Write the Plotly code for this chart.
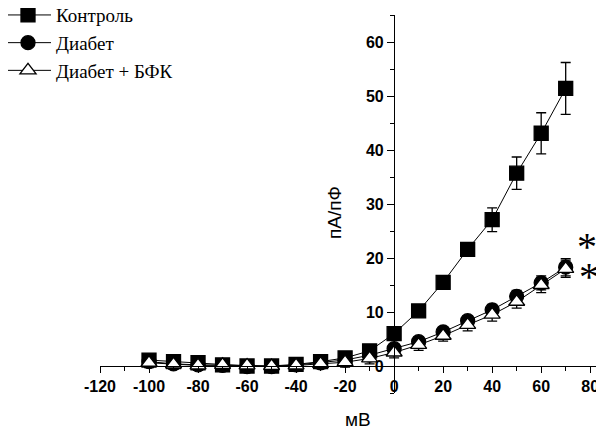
import plotly.graph_objects as go

voltage = [-100, -90, -80, -70, -60, -50, -40, -30, -20, -10, 0, 10, 20, 30, 40, 50, 60, 70]

control = [1.1, 0.8, 0.6, 0.2, 0.0, 0.0, 0.3, 0.8, 1.5, 2.8, 6.0, 10.2, 15.5, 21.6, 27.1, 35.7, 43.1, 51.4]
control_err = [0.5, 0.4, 0.4, 0.3, 0.3, 0.3, 0.3, 0.3, 0.4, 0.5, 0.5, 0.5, 0.6, 1.0, 2.2, 3.0, 3.8, 4.8]

diabetes = [0.8, 0.4, 0.2, 0.1, -0.1, -0.1, 0.2, 0.6, 1.1, 2.0, 3.2, 4.5, 6.3, 8.4, 10.4, 12.9, 15.4, 18.3]
diabetes_err = [0.9, 0.8, 0.8, 0.8, 0.8, 0.8, 0.8, 0.8, 0.8, 0.9, 0.9, 0.9, 0.9, 0.9, 1.0, 1.1, 1.3, 1.6]

bfk = [0.6, 0.3, 0.1, 0.2, 0.1, 0.0, 0.1, 0.4, 0.7, 1.4, 2.5, 3.9, 5.6, 7.6, 9.5, 11.9, 15.0, 18.0]
bfk_err = [0.9, 0.9, 0.9, 0.9, 0.9, 0.9, 0.9, 0.9, 0.9, 1.0, 1.0, 1.0, 1.0, 1.1, 1.2, 1.2, 1.4, 1.6]

names = ["Контроль", "Диабет", "Диабет + БФК"]
x_ticks = [-120, -100, -80, -60, -40, -20, 0, 20, 40, 60, 80]
y_ticks = [0, 10, 20, 30, 40, 50, 60]

x_range = [-120, 84]
y_range = [-5, 65]

fig = go.Figure()

series = [
    (names[0], control, control_err, "square", "black"),
    (names[1], diabetes, diabetes_err, "circle", "black"),
    (names[2], bfk, bfk_err, "triangle-up", "white"),
]
for name, vals, errs, sym, fill in series:
    fig.add_trace(go.Scatter(
        x=voltage, y=vals, name=name, mode="lines+markers",
        line=dict(color="black", width=1),
        marker=dict(symbol=sym, size=14, color=fill, line=dict(color="black", width=1.3)),
        error_y=dict(type="data", array=errs, visible=True, color="black", thickness=1.3, width=5),
        hoverinfo="skip",
    ))

# page body has an 8px margin, so the figure is sized/offset to compensate
fig.update_layout(
    width=596, height=422,
    margin=dict(l=92, r=4, t=7, b=37, autoexpand=False),
    paper_bgcolor="white", plot_bgcolor="white",
    showlegend=True,
    legend=dict(
        x=-0.2, y=1.05, xanchor="left", yanchor="top",
        font=dict(family="Liberation Serif", size=19, color="black"),
        bgcolor="rgba(0,0,0,0)", tracegroupgap=0, itemwidth=46,
    ),
    xaxis=dict(
        range=x_range, anchor="free", position=(0 - y_range[0]) / (y_range[1] - y_range[0]),
        showline=True, linecolor="black", linewidth=1.3,
        tickmode="array", tickvals=x_ticks, ticktext=[str(v) for v in x_ticks],
        ticks="outside", ticklen=6, tickwidth=1.3, tickcolor="black",
        minor=dict(dtick=10, tick0=-120, ticks="outside", ticklen=4, tickwidth=1.3, tickcolor="black", showgrid=False),
        showgrid=False, zeroline=False,
        tickfont=dict(family="Liberation Sans", size=16, color="black", weight="bold"),
    ),
    yaxis=dict(
        range=y_range, anchor="free", position=(0 - x_range[0]) / (x_range[1] - x_range[0]),
        showline=True, linecolor="black", linewidth=1.3,
        tickmode="array", tickvals=y_ticks, ticktext=[str(v) for v in y_ticks],
        ticks="outside", ticklen=7, tickwidth=1.3, tickcolor="black",
        minor=dict(dtick=5, tick0=5, ticks="outside", ticklen=4, tickwidth=1.3, tickcolor="black", showgrid=False),
        showgrid=False, zeroline=False,
        tickfont=dict(family="Liberation Sans", size=16, color="black", weight="bold"),
    ),
    annotations=[
        dict(text="мВ", xref="paper", yref="paper", x=0.516, y=-0.069, showarrow=False,
             font=dict(family="Liberation Sans", size=19, color="black"), xanchor="center", yanchor="middle"),
        dict(text="пА/пФ", xref="paper", yref="paper", x=0.468, y=0.476, showarrow=False, textangle=-90,
             font=dict(family="Liberation Sans", size=19, color="black"), xanchor="center", yanchor="middle"),
        dict(text="*", xref="x", yref="y", x=78.5, y=22.2, showarrow=False,
             font=dict(family="Liberation Serif", size=40, color="black")),
        dict(text="*", xref="x", yref="y", x=79.5, y=16.6, showarrow=False,
             font=dict(family="Liberation Serif", size=40, color="black")),
    ],
)

fig.write_html("out.html")
